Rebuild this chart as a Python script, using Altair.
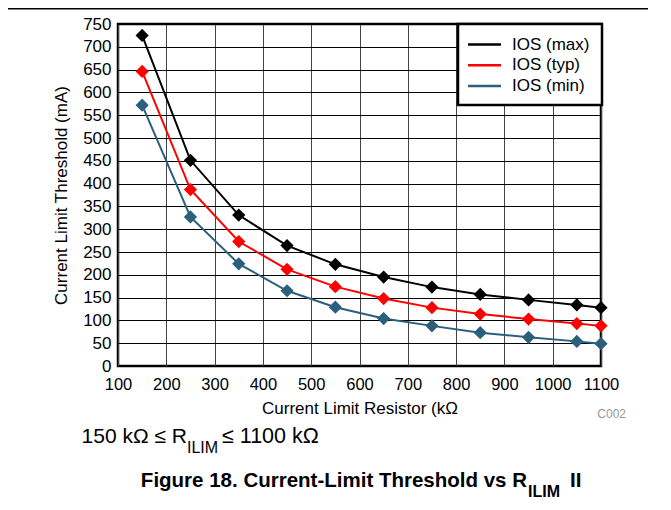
import altair as alt
import pandas as pd

# ---- data ----
r_kohm = [150, 250, 350, 450, 550, 650, 750, 850, 950, 1050, 1100]
ios_max = [725, 451, 331, 264, 223, 195, 173, 157, 145, 134, 128]
ios_typ = [646, 387, 273, 212, 174, 148, 128, 114, 103, 93, 88]
ios_min = [572, 327, 224, 165, 129, 104, 88, 73, 63, 54, 49]
series_names = ["IOS (max)", "IOS (typ)", "IOS (min)"]
series_colors = ["#000000", "#ff0000", "#2b607c"]
x_ticks = list(range(100, 1101, 100))
y_ticks = list(range(0, 751, 50))

FONT = "Liberation Sans"

df = pd.concat(
    [
        pd.DataFrame({"R": r_kohm, "I": vals, "series": name})
        for name, vals in zip(series_names, [ios_max, ios_typ, ios_min])
    ],
    ignore_index=True,
)

color = alt.Color(
    "series:N",
    scale=alt.Scale(domain=series_names, range=series_colors),
    legend=None,
)

x_enc = alt.X(
    "R:Q",
    scale=alt.Scale(domain=[100, 1100], nice=False, zero=False),
    axis=alt.Axis(
        values=x_ticks,
        format="d",
        title="Current Limit Resistor (kΩ",
        grid=True,
        gridColor="#444444",
        gridWidth=1,
        gridOpacity=1,
        ticks=False,
        domain=False,
        labelPadding=10,
        labelFont=FONT,
        labelFontSize=16.5,
        labelColor="black",
        labelOverlap=False,
        labelFlush=False,
        labelBound=False,
        titleFont=FONT,
        titleFontSize=17,
        titleFontWeight="normal",
        titleColor="black",
        titleY=47,
        titleBaseline="alphabetic",
    ),
)
y_enc = alt.Y(
    "I:Q",
    scale=alt.Scale(domain=[0, 750], nice=False),
    axis=alt.Axis(
        values=y_ticks,
        format="d",
        title="Current Limit Threshold (mA)",
        grid=True,
        gridColor="#000000",
        gridWidth=1,
        gridOpacity=1,
        ticks=False,
        domain=False,
        labelPadding=7,
        labelFont=FONT,
        labelFontSize=17,
        labelColor="black",
        labelOverlap=False,
        labelFlush=False,
        labelBound=False,
        titleFont=FONT,
        titleFontSize=17,
        titleFontWeight="normal",
        titleColor="black",
        titleX=-52,
        titleY=171,
        titleAngle=270,
        titleAlign="center",
        titleBaseline="alphabetic",
    ),
)

base = alt.Chart(df)
lines = base.mark_line(strokeWidth=2).encode(
    x=x_enc, y=y_enc, color=color, order=alt.Order("R:Q")
)
points = base.mark_point(shape="diamond", filled=True, size=175, opacity=1).encode(
    x=x_enc, y=y_enc, color=color
)
main = alt.layer(lines, points)

# ---- legend (drawn manually to match the boxed legend) ----
leg_df = pd.DataFrame({"series": series_names})
leg_y = alt.Y(
    "series:N",
    scale=alt.Scale(type="point", domain=series_names, range=[20.5, 62], padding=0),
    axis=None,
)
leg_box = alt.Chart(pd.DataFrame({"a": [0]})).mark_rect(
    fill="white", stroke="black", strokeWidth=2.5
).encode(x=alt.value(340), x2=alt.value(484), y=alt.value(0), y2=alt.value(81))
leg_lines = alt.Chart(leg_df).mark_rule(strokeWidth=2.5).encode(
    x=alt.value(350), x2=alt.value(383), y=leg_y, color=color
)
leg_text = alt.Chart(leg_df).mark_text(
    align="left", baseline="middle", fontSize=17, font=FONT, color="black"
).encode(x=alt.value(394), y=leg_y, text="series:N")


def txt(s, x, y, size, weight="normal", color="black", align="left"):
    return alt.Chart(pd.DataFrame({"t": [s]})).mark_text(
        align=align, baseline="alphabetic", fontSize=size, fontWeight=weight,
        font=FONT, color=color
    ).encode(x=alt.value(x), y=alt.value(y), text="t:N")


top_rule = alt.Chart(pd.DataFrame({"a": [0]})).mark_rule(
    color="black", strokeWidth=1.5
).encode(x=alt.value(-110), x2=alt.value(530), y=alt.value(-15.2))

annotations = [
    txt("C002", 508, 394, 12, color="#999999", align="right"),
    txt("150 kΩ ≤ R", 69, 419, 21, align="right"),
    txt("ILIM", 69, 429, 16),
    txt("≤ 1100 kΩ", 104, 419, 21.5),
    txt("Figure 18. Current-Limit Threshold vs R", 409, 463, 20.5, weight="bold", align="right"),
    txt("ILIM", 410, 473, 16, weight="bold"),
    txt("II", 452, 463, 20.5, weight="bold"),
]

chart = (
    alt.layer(main, leg_box, leg_lines, leg_text, top_rule, *annotations)
    .resolve_scale(y="independent")
    .properties(
        width=483,
        height=342,
        background="white",
        autosize=alt.AutoSizeParams(type="none"),
        padding={"left": 110, "top": 16, "right": 47, "bottom": 134},
    )
    .configure_view(stroke="black", strokeWidth=2.5)
)

chart.save("out.html", embed_options={"renderer": "svg", "actions": False})
